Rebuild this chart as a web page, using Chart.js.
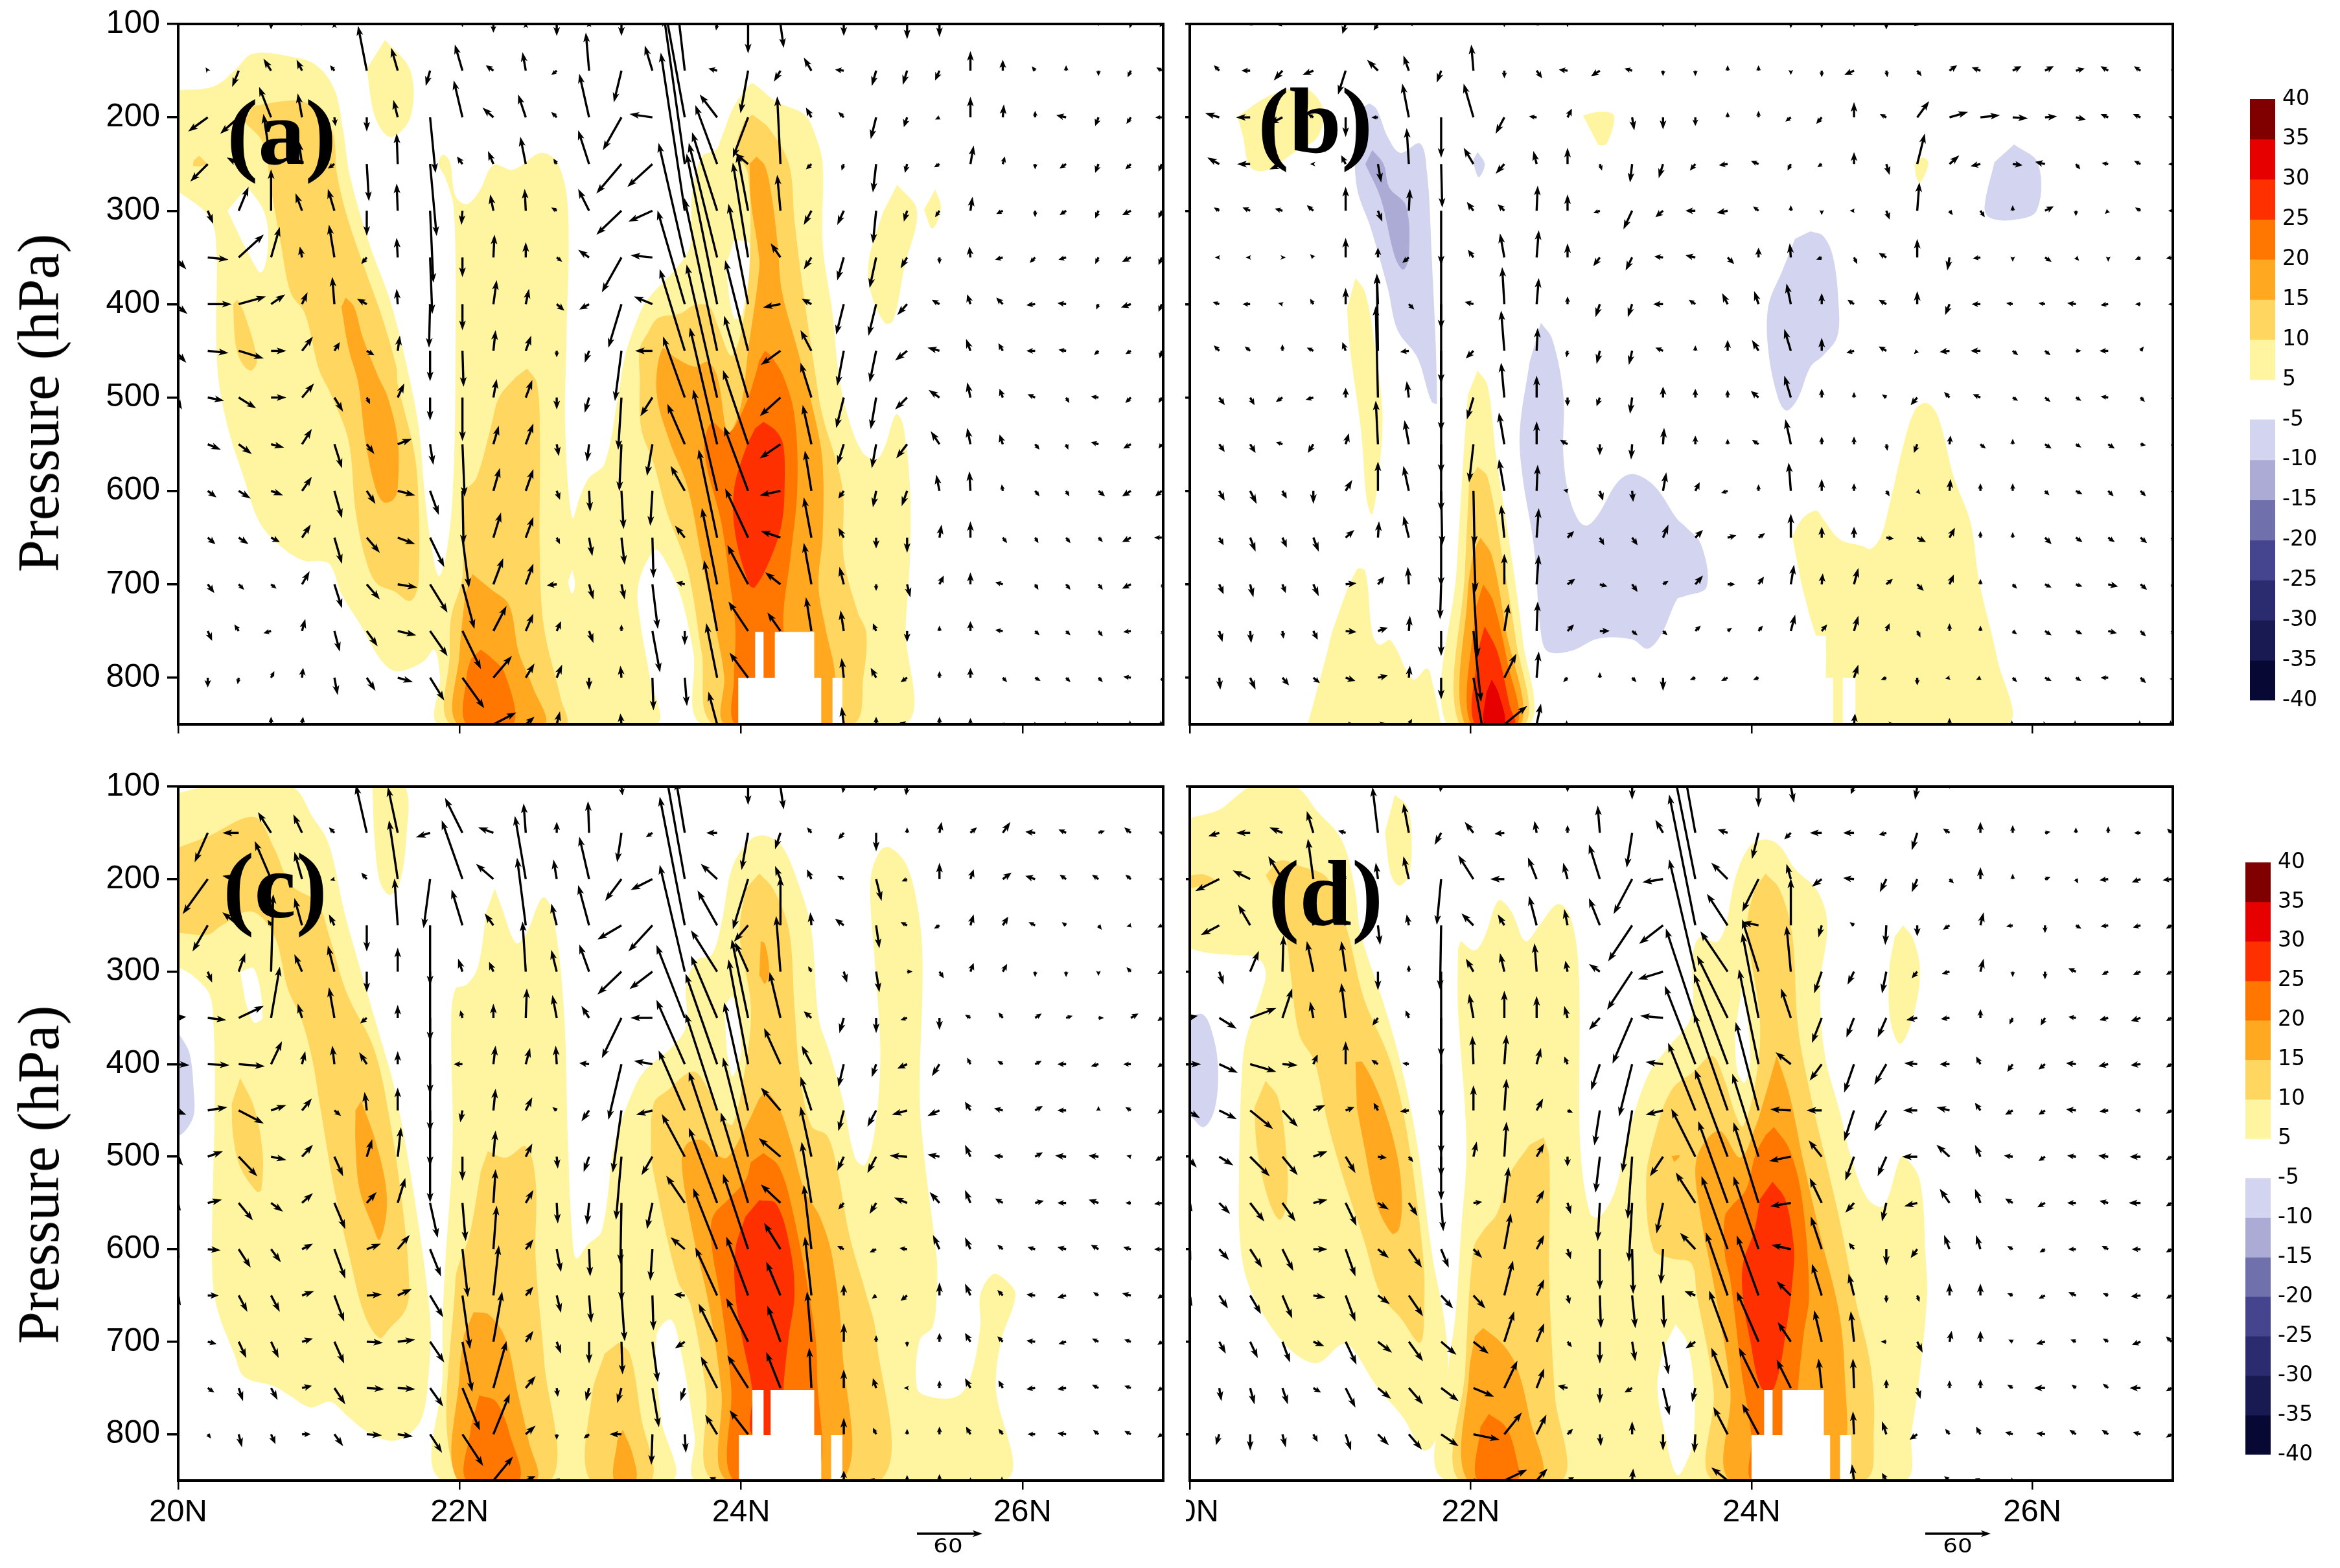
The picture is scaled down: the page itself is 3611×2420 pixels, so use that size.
<!DOCTYPE html>
<html><head><meta charset="utf-8">
<style>
html,body{margin:0;padding:0;background:#fff;width:3611px;height:2420px;overflow:hidden}
canvas{position:absolute;display:block}
.t{position:absolute;white-space:nowrap;color:#000}
.panel{font:700 145px/145px "Liberation Serif",serif}
.yt{font:400 90px/90px "Liberation Serif",serif;transform:translate(-50%,-50%) rotate(-90deg)}
.ref{font:400 31px/31px "DejaVu Sans",sans-serif;transform:translateX(-50%) scaleX(1.15)}
</style></head><body>
<script src="https://cdn.jsdelivr.net/npm/chart.js@4/dist/chart.umd.min.js"></script>
<script>
const latitudes=[19.98,20.21,20.43,20.66,20.88,21.11,21.34,21.56,21.79,22.02,22.24,22.47,22.69,22.92,23.15,23.37,23.6,23.83,24.05,24.28,24.5,24.73,24.96,25.18,25.41,25.63,25.86,26.09,26.31,26.54,26.77,26.99];
const pressures=[100,150,200,250,300,350,400,450,500,550,600,650,700,750,800,850];
const pressureTicks=[100,200,300,400,500,600,700,800];
const latTicks=[20,22,24,26];
const colorLabels=['40','35','30','25','20','15','10','5','-5','-10','-15','-20','-25','-30','-35','-40'];
const levelColors={0:'#ffffff',5:'#fff5a0',10:'#ffd660',15:'#ffa820',20:'#ff7700',25:'#ff3000',30:'#e60000',35:'#800000','-5':'#d3d4f0','-10':'#ababd6','-15':'#7070ad','-20':'#44448f','-25':'#2b2b70','-30':'#1a1a52','-35':'#080835'};
const barColors=['#800000','#e60000','#ff3000','#ff7700','#ffa820','#ffd660','#fff5a0',null,'#d3d4f0','#ababd6','#7070ad','#44448f','#2b2b70','#1a1a52','#080835'];
const refArrowValue=60;

// wind vectors: one row per pressure level, u,w pairs per latitude
const windA=[
[0,0,0,-1,-1,-3,0,-5,-1,-2,0,1,0,0,0,-1,0,0,0,-3,0,-8,0,1,0,-11,0,2,0,-11,2,5,0,0,-1,-6,0,-27,3,-22,0,0,0,-11,0,-6,0,-14,0,-12,0,0,0,0,-1,-1,0,0,0,-2,-1,-4,-2,-3],
[0,0,-2,3,-6,-15,-7,11,-5,10,-4,5,-8,41,-6,21,-4,-14,-7,24,-7,5,-3,17,-5,-4,-3,35,-7,-29,-7,23,-7,60,-8,2,-7,-39,-6,-10,-7,12,-8,1,-4,-14,-4,-13,-4,-9,0,18,0,10,-3,4,0,5,0,-5,-3,-6,-5,3],
[0,0,-18,-13,-17,-15,-11,28,-4,22,1,-8,0,-13,-4,16,5,-51,-8,34,-10,9,-7,21,-5,5,-9,40,-17,-30,-21,3,-20,110,-16,21,-14,-37,0,0,-5,9,-5,5,-5,-20,-3,-9,-4,-2,0,19,1,12,0,6,-9,2,-3,-8,-4,-6,-6,0],
[0,0,-16,-16,-11,6,-7,46,-3,21,-6,-4,2,-34,-1,28,6,-66,-5,7,-5,12,-5,25,-3,5,-10,31,-23,-27,-23,-21,-19,135,-20,54,-12,10,-3,62,-5,-5,-2,-6,-3,-26,-2,-8,-5,-3,3,17,2,7,0,-5,-6,-4,-3,-8,-5,-5,-3,-7],
[0,0,5,-12,9,22,0,38,-6,16,-6,20,0,-23,-1,25,3,-66,-1,-13,-3,15,-1,20,-5,3,-10,20,-23,-22,-22,-10,-22,145,-23,72,-10,53,-3,33,-7,-13,-6,-13,-3,-30,-3,-10,-4,-6,2,13,-6,-3,0,-6,-6,-4,-3,-7,-8,-4,-3,-7],
[10,-11,19,-2,23,21,8,28,-2,10,-5,30,-5,-6,-1,18,2,-52,0,-18,1,21,0,14,5,-4,-10,7,-18,-32,-20,2,-24,105,-26,105,-14,87,-9,13,-7,-11,-6,-21,-6,-28,-6,-10,0,-6,-1,10,-7,-2,-5,-5,-7,-2,-3,-6,-8,-4,-3,-7],
[11,-9,22,0,25,7,13,9,5,11,-2,25,-9,5,-1,14,-1,-40,0,-24,3,22,3,14,7,-6,-9,-5,-12,-40,-17,7,-25,86,-28,138,-18,92,-16,-3,-9,5,-7,-28,-7,-29,-9,-10,-7,4,-3,9,-6,6,-8,-1,-8,1,-2,-5,-9,-3,-3,-7],
[10,-11,19,-2,23,-7,14,0,10,13,5,8,7,-4,2,14,0,-28,1,-33,2,19,5,14,0,-6,-4,-11,-6,-46,-16,0,-23,75,-30,140,-21,83,-18,-13,-10,19,-6,-32,-6,-29,-11,-9,-11,3,-4,11,-4,7,-8,0,-7,1,-4,-4,-5,-3,-2,-7],
[6,-11,15,-3,16,-10,14,0,11,13,8,-13,3,-6,6,13,0,-21,0,-40,3,17,6,16,0,-11,-4,-14,-3,-48,-11,-17,-20,56,-28,122,-22,75,-19,-17,-10,32,-7,-28,-5,-29,-11,-11,-10,7,-3,14,-3,8,-7,3,3,-5,-7,1,-5,-5,-3,-5],
[3,-7,12,-5,12,-9,12,-3,9,14,7,-22,7,-9,13,5,3,-19,2,-48,5,17,7,19,2,-11,-2,-16,-2,-43,-5,-29,-16,37,-25,107,-23,68,-19,-13,-8,36,-6,-19,-4,-22,-10,-13,-8,12,-3,15,-3,9,4,-5,2,-5,-7,2,-7,-4,-3,-4],
[3,-8,8,-6,11,-7,11,-4,9,13,7,-25,8,-12,16,-4,8,-22,1,-49,6,21,7,20,3,-8,1,-19,2,-35,-2,-32,-13,23,-22,93,-22,59,-19,-4,-6,37,-5,-7,-3,-15,-5,-14,-3,15,-1,18,-1,6,4,-5,3,-5,6,-5,-8,-5,-6,-5],
[2,-7,7,-6,9,-6,8,-4,8,12,7,-24,12,-14,16,-6,13,-27,6,-46,7,23,7,19,3,-6,3,-17,3,-25,1,-37,-9,11,-17,81,-21,45,-18,6,-7,37,-5,9,0,-10,0,-14,2,12,0,15,4,-5,3,-5,4,-5,4,-4,-8,-4,-7,0],
[2,-6,6,-8,5,-5,5,-4,7,12,7,-22,12,-14,18,-3,16,-26,11,-41,9,24,7,19,-9,-1,4,-14,3,-14,5,-41,-8,2,-14,70,-19,36,-14,11,-7,38,-4,16,0,-6,3,-12,4,8,0,11,-7,2,3,-5,4,-5,4,-5,-8,-4,3,-5],
[1,-4,4,-9,-4,6,-7,-2,3,11,5,-19,10,-14,17,-4,16,-23,17,-35,12,23,7,16,4,9,4,-11,0,6,7,-38,0,-13,-12,65,-18,27,-12,17,-5,31,-3,19,-3,7,0,-10,0,5,0,9,-7,1,4,-4,4,-4,4,-5,-7,-1,3,-5],
[0,0,0,-9,-1,-6,3,6,1,9,3,-16,8,-12,14,-4,13,-21,20,-28,17,20,8,13,5,12,0,-11,-1,11,1,-30,2,-26,-10,50,-17,23,0,0,0,0,-2,18,-5,9,-6,-4,0,6,0,9,4,-4,5,-3,4,-4,4,-4,-7,1,2,-5],
[0,0,0,0,0,1,0,7,1,7,0,0,0,0,0,0,0,0,0,0,21,11,8,7,3,12,0,0,-1,10,0,0,0,0,-8,30,0,0,0,0,0,0,-2,16,0,7,-7,2,0,7,0,6,-3,1,3,-1,2,-1,2,-1,1,-1,1,-1]
];
const windB=[
[0,0,0,0,-3,-1,-5,-1,0,0,-3,-9,-4,-6,-1,0,0,0,0,0,0,-3,-3,-1,0,-3,0,0,0,0,0,-3,0,-3,0,0,0,0,0,-4,0,-4,0,-3,0,-5,-3,-2,0,0,0,0,0,-1,0,0,0,-1,0,-1,0,0,0,0],
[0,0,-5,5,-8,0,-8,-9,-10,-4,-7,-22,-10,10,-5,14,-4,-11,-2,24,0,-7,5,-7,-8,1,-8,-5,-7,2,0,-5,0,-5,0,5,0,5,0,-4,0,-6,-9,-4,1,-6,4,-5,7,5,-8,3,8,4,8,4,8,2,-7,4,-6,4,5,2],
[0,0,-13,4,-13,0,-12,-6,-5,3,0,-18,-6,0,-6,31,0,-37,-9,31,-8,-15,-7,1,4,8,0,0,2,-12,0,-11,0,-8,0,5,0,6,-5,-4,-5,-6,0,14,-6,3,11,15,17,5,18,2,14,-1,11,1,9,-2,-7,3,-7,3,-3,1],
[0,0,-11,6,-12,0,-12,-5,-3,0,-4,8,3,-17,-2,33,1,-40,-9,15,-8,-9,-3,12,0,15,2,-6,-2,-17,-4,-13,-5,-6,-8,-1,-7,3,-3,-6,-4,-3,0,11,3,-10,7,28,9,8,-9,-2,9,-1,-9,2,4,-5,-6,1,-6,3,-3,0],
[0,0,-5,3,-7,3,-7,2,-6,5,0,22,4,-10,1,20,0,-50,-6,8,-6,6,1,23,0,15,-6,-2,-8,-17,-7,-6,-9,0,-10,-2,-5,4,0,5,0,-4,-4,0,3,-8,2,26,3,-4,4,-6,0,5,8,4,0,-5,-3,-3,-5,3,-3,0],
[0,0,-4,0,-4,0,3,0,-3,3,0,18,0,9,-6,-5,0,-66,-5,7,-4,22,2,25,0,13,-6,-8,-6,-12,-8,1,-9,2,6,-6,0,9,-1,13,-5,-2,3,-6,-7,4,0,17,-2,-12,-7,-1,0,-4,6,-4,3,-3,0,-4,-5,-2,-5,-1],
[-5,3,-6,2,-7,0,-4,1,-3,5,0,15,-1,28,5,-5,0,-73,-8,2,-2,34,2,24,0,7,-4,-12,-4,-12,-9,0,-6,4,-5,10,-4,12,-4,19,0,10,-6,4,-7,4,0,12,-4,-10,-8,0,-6,1,-6,1,-8,1,-7,-1,-5,0,-3,0],
[-3,5,-5,5,-5,4,0,6,-6,3,-3,8,-1,70,-8,-1,0,-74,-7,-7,-3,37,1,21,-1,-6,-3,-12,-3,-13,-7,3,0,5,0,10,-6,10,-6,20,0,12,-7,-2,-7,4,-3,-3,-9,-1,-9,0,5,-4,5,-4,5,0,-8,0,3,4,0,0],
[3,-5,5,-7,4,-7,-6,-4,-7,-2,0,9,-2,84,-2,15,0,-70,-6,-20,-3,32,0,20,0,-8,-3,-8,-2,-15,0,10,0,8,0,7,-7,6,-6,20,0,8,0,5,-4,3,-6,-7,-5,5,-7,3,5,-3,5,-4,5,-3,-7,1,4,-4,5,-3],
[3,-8,5,-7,5,-8,-6,2,-5,-8,3,10,-2,40,-4,22,0,-62,-4,-35,-5,29,0,21,-7,4,0,-10,-1,-14,1,15,0,8,0,5,-6,4,-5,23,0,7,0,7,1,-6,-3,-8,1,8,5,-4,0,5,6,-4,5,-3,6,-4,5,-1,5,-4],
[3,-7,5,-9,6,-12,4,-7,0,-12,6,10,0,27,-5,23,1,-50,1,-50,-5,29,1,24,-4,1,3,-9,1,-10,3,17,4,8,-6,-2,0,6,-2,26,0,11,0,7,3,-5,3,-3,1,11,0,7,0,7,4,-4,6,-3,5,-5,5,-5,5,-3],
[3,-6,4,-7,5,-13,4,-9,5,-13,8,7,1,15,-5,20,0,-45,2,-50,-3,30,2,27,6,6,4,-7,5,-7,5,12,7,7,8,2,6,4,0,22,0,10,0,10,7,-1,8,-4,5,9,0,6,0,5,6,-6,6,-4,6,-4,6,-5,4,-4],
[3,-6,4,-9,3,-12,3,-8,5,-11,10,1,6,7,-1,16,-1,-32,4,-67,0,28,2,27,7,5,7,-2,5,-7,5,3,7,8,7,0,5,7,3,18,1,10,4,15,6,5,6,-6,4,9,0,5,4,-4,6,-3,6,-2,9,-2,6,-5,4,-4],
[1,-4,3,-10,1,-11,1,-7,4,-8,10,-1,9,3,1,14,0,-23,7,-65,4,25,1,27,6,6,9,0,5,-4,4,-4,5,5,4,3,4,5,4,15,5,6,4,14,3,7,3,-6,0,7,0,5,4,-3,6,-4,6,-3,8,-2,5,-5,4,-4],
[0,0,1,-11,5,-11,6,-7,6,-5,9,-3,9,2,1,11,0,-20,9,-50,11,22,2,24,-4,-4,0,5,4,-4,0,-12,-5,-2,-6,-3,-5,-2,0,0,0,0,4,12,-5,-2,0,-7,-4,-1,-4,-2,4,-4,6,-3,5,-3,-7,0,5,-5,3,-3],
[0,0,0,0,0,0,0,0,0,0,8,0,7,1,3,5,0,0,9,-30,21,17,4,19,1,-1,0,0,0,0,0,0,0,0,0,0,0,0,0,0,0,0,1,10,8,0,0,0,0,6,0,0,1,-1,2,-1,1,-1,0,0,1,-1,1,-1]
];
const windC=[
[0,0,-2,-1,0,0,0,0,0,0,0,0,0,0,0,0,0,0,0,0,0,0,0,0,0,0,0,0,1,-8,0,0,0,0,0,0,0,-17,3,-21,0,0,-1,-6,-2,-4,-1,-8,0,0,0,0,0,0,0,0,0,0,0,0,0,0,0,0],
[0,0,-12,-27,-15,0,-12,19,-8,17,-5,5,-10,44,-9,42,-13,-4,-16,32,-14,5,-2,27,0,10,-1,29,-4,-27,-6,-4,-8,48,-10,0,-6,-34,-5,-15,-4,5,-5,-6,0,-17,0,5,2,10,6,5,7,10,-9,1,-7,3,6,2,-6,5,-3,1],
[0,0,-23,-32,-15,3,-15,35,-7,25,-4,-1,-5,6,-8,54,-6,-45,-19,54,-16,14,-10,58,-3,18,-9,39,-15,-20,-20,-10,-17,95,-15,14,-14,-46,-5,12,-4,9,-6,3,5,-20,-5,-2,0,15,3,9,8,6,-9,3,-6,4,-6,4,-5,4,-3,0],
[0,0,-14,-24,-15,12,-3,5,-7,25,-5,10,0,-24,-3,43,0,-55,-10,33,-8,11,-8,62,-5,20,-10,37,-22,-13,-22,-24,-23,118,-18,32,-13,-15,0,45,-1,12,-8,6,3,-21,-6,3,-5,-3,3,10,5,8,-6,3,-4,3,3,-4,-4,-1,-4,-2],
[0,0,4,-10,6,17,2,71,-7,16,-6,24,0,-19,0,22,0,-64,-4,12,-4,9,-3,46,-5,20,-9,25,-22,-21,-21,-16,-23,98,-24,38,-12,27,-4,51,-3,5,3,-10,3,-19,5,0,4,-6,3,8,4,7,0,-5,0,-5,0,-4,-4,4,-4,-2],
[10,1,17,-2,23,11,8,47,-4,13,-5,28,-6,-5,0,12,0,-70,-2,7,0,13,1,27,-4,21,-7,11,-18,-37,-20,0,-26,67,-24,57,-15,72,-10,42,-7,6,-4,-14,0,-14,-6,-2,0,-11,-5,3,-4,5,6,4,6,2,5,0,7,4,-4,-3],
[13,-1,20,-1,24,-2,10,21,3,12,-2,17,-7,11,0,12,0,-62,-8,0,2,17,4,15,-1,17,-9,1,-12,-51,-17,3,-26,59,-29,83,-18,96,-15,33,-9,17,-5,-21,-4,-12,-9,-4,-7,-11,-3,6,-5,3,6,3,-8,0,-7,-2,-7,0,-4,-3],
[10,-4,18,3,23,-12,14,5,9,11,6,-5,-2,17,0,21,0,-51,-2,-11,2,20,6,12,-4,3,-7,-10,-8,-57,-15,-4,-24,55,-29,89,-22,99,-18,21,-10,31,-5,-19,-8,-15,-14,-4,-11,-5,-5,8,-8,2,7,4,-8,0,0,4,-5,3,-4,-3],
[7,-8,14,5,17,-18,14,-3,10,11,8,-18,5,16,3,27,0,-42,0,-22,2,24,6,12,1,-11,-5,-14,-5,-58,-10,-17,-21,39,-26,78,-23,91,-20,17,-10,46,-6,-13,-8,-15,-16,1,-11,2,-5,11,-8,1,7,4,-10,1,-9,1,-4,1,-6,-4],
[5,-7,13,3,13,-16,11,-8,10,9,10,-24,9,10,7,23,7,-32,3,-35,2,31,7,12,1,-19,-2,-20,-1,-56,-5,-24,-17,25,-26,69,-25,83,-18,17,-9,56,-5,-6,-6,-10,-12,5,-9,10,-5,12,-7,4,8,2,-8,0,-9,3,-5,0,-7,-1],
[4,-8,12,-1,11,-17,9,-12,10,5,10,-27,13,5,11,13,10,-25,5,-44,3,40,7,9,4,-21,1,-25,0,-48,-2,-29,-13,11,-22,56,-23,69,-15,24,-7,59,-6,3,-6,-3,-7,1,-6,13,-5,11,-5,4,-7,2,-8,2,-7,4,-7,2,-7,0],
[5,-9,10,0,8,-15,8,-15,11,4,9,-24,14,1,13,6,12,-20,7,-49,5,46,7,8,4,-16,2,-25,3,-42,1,-32,-10,1,-20,44,-20,54,-13,31,-6,54,0,10,-4,-3,-6,-5,0,12,-5,11,-5,5,-8,1,-8,-2,-5,3,-8,2,-4,-3],
[2,-7,8,-2,7,-15,7,-15,10,3,9,-20,15,-1,16,2,13,-19,9,-46,8,46,7,10,4,-11,0,-20,1,-30,5,-37,-9,-6,-17,35,-20,40,-12,33,-4,46,0,17,0,6,0,-5,0,8,-5,8,-5,5,-8,1,-7,-2,-6,3,-6,2,-4,-3],
[1,-4,6,-4,4,-12,6,-11,9,2,10,-15,16,-1,16,-1,12,-17,16,-39,12,43,9,11,1,-8,-3,-12,-4,-14,6,-36,-4,-12,-15,29,-19,30,-13,33,-2,37,0,17,-3,9,-3,0,0,7,-5,9,-4,7,-8,-1,-8,-1,-6,3,-6,2,-4,-3],
[0,0,3,-4,3,-12,4,-9,8,0,8,-11,14,-1,14,-2,11,-17,19,-29,15,37,9,8,0,-5,-5,-4,-11,0,-1,-28,1,-17,-11,18,-17,22,0,0,0,0,0,15,-3,6,0,5,0,7,-4,7,-4,5,-7,0,-8,1,-5,4,-6,3,-4,-3],
[0,0,0,0,0,0,0,0,0,0,0,0,0,0,0,0,0,0,0,0,18,22,9,4,3,2,0,0,8,-5,0,0,0,0,-7,3,0,0,0,0,0,0,0,9,-6,1,0,5,0,6,0,3,1,-1,0,0,0,0,0,0,0,0,0,0]
];
const windD=[
[0,0,0,0,0,0,0,0,0,0,0,0,0,0,0,0,-1,-5,0,0,0,0,0,0,0,-5,0,0,0,-12,0,0,0,0,0,0,0,-19,3,-15,0,0,-3,-7,0,0,-2,-12,0,-2,0,0,0,0,0,0,0,0,0,0,0,0,0,0],
[0,0,-10,-3,-13,0,-12,5,-6,20,-7,2,-5,42,-5,27,-6,-11,-8,10,-9,-1,-2,11,0,7,-2,25,-5,-32,-7,12,-9,50,-9,3,-6,-24,-6,-6,-11,0,-10,0,-7,-2,-5,-16,-6,4,0,10,0,7,5,1,0,5,0,6,-6,0,-4,4],
[0,0,-22,-11,-16,8,-13,21,-5,37,-3,5,-2,15,-5,21,-4,-42,-14,22,-13,0,-8,20,-4,15,-10,32,-17,-32,-19,-3,-19,95,-15,15,-15,-30,-4,14,-9,-7,-10,1,-6,-12,-5,-12,4,-4,0,11,0,5,5,2,2,-4,-8,-1,-8,-3,-8,-1],
[0,0,-17,-9,-11,19,-3,8,-4,30,-3,8,2,-18,-2,10,-1,-59,-11,11,-6,10,-7,27,-3,15,-10,25,-22,-33,-22,-17,-24,120,-19,29,-15,3,0,43,-3,-11,-4,3,-1,-18,0,-10,-6,-4,3,12,-6,-1,0,-7,5,-3,-7,-1,-7,-2,-5,-3],
[0,0,4,-12,8,19,1,33,-6,28,-4,28,0,-17,0,6,0,-79,-7,12,-4,17,-2,26,-2,10,-10,7,-23,-35,-23,-7,-24,103,-25,37,-15,48,-4,42,-7,-20,-6,-12,-4,-20,-5,-6,-7,-2,3,12,0,-5,0,-7,-7,3,-6,-3,-7,-3,-5,-3],
[10,2,16,-10,24,9,9,27,-3,15,-4,32,-5,-7,-3,7,0,-93,-4,22,0,25,0,20,-3,11,-10,-11,-18,-42,-21,2,-27,82,-28,57,-15,78,-9,27,-9,-23,-7,-18,-8,-18,-10,-2,-8,-1,0,8,-3,-6,-4,-7,-7,1,-8,-2,-9,-3,-5,-3],
[13,0,17,-8,24,-7,14,-1,4,9,0,21,-6,4,-6,1,0,-83,-1,26,2,27,4,15,-3,7,-8,-24,-12,-48,-16,2,-28,72,-31,83,-18,87,-14,11,-11,-15,-9,-26,-11,-19,-12,1,-9,0,-4,7,-5,-7,-6,-5,-9,1,-9,-2,-9,-1,-5,-3],
[12,-7,16,-8,21,-17,14,-15,11,5,8,3,-4,7,-8,-1,0,-61,0,23,2,29,6,11,5,-2,-5,-32,-9,-57,-16,-4,-25,62,-31,89,-21,81,-19,1,-14,0,-9,-28,-11,-19,-13,0,-12,3,-5,7,-7,-4,-6,-4,-9,1,-8,-1,-5,0,-5,-3],
[9,-10,13,-8,18,-18,14,-17,13,5,9,-15,8,-1,4,-5,0,-40,3,14,2,32,7,12,0,-9,-4,-33,-4,-57,-12,-18,-22,44,-30,80,-24,76,-20,-4,-12,15,-8,-22,-8,-18,-14,0,-12,11,-5,11,-8,1,-6,-4,-8,1,-9,1,-10,0,-5,-3],
[5,-8,10,-10,13,-17,12,-17,13,3,10,-21,10,-6,8,-12,2,-26,8,1,4,33,7,12,3,-10,-2,-35,-3,-54,-6,-28,-18,28,-27,75,-23,74,-19,-3,-11,23,-8,-9,-4,-17,-12,-3,-9,13,-5,13,-7,4,-7,-4,-8,0,-8,2,-11,0,-5,-3],
[4,-10,9,-10,11,-17,10,-20,13,0,9,-25,10,-8,12,-17,7,-17,8,-8,6,33,7,13,3,-9,0,-37,1,-41,-2,-32,-14,15,-24,67,-23,67,-18,4,-10,30,-5,6,0,-15,-6,-8,-5,13,-4,13,-5,3,-5,-3,-7,0,-6,3,-8,0,-5,-3],
[5,-10,8,-12,10,-17,9,-21,11,-2,9,-24,11,-8,13,-19,11,-12,11,-12,8,32,7,15,2,-8,1,-30,3,-30,1,-30,-10,4,-20,58,-20,55,-13,13,-9,29,-5,20,0,-7,2,-6,0,11,0,11,-5,2,-6,-3,-7,3,-5,2,-9,-1,-5,-3],
[2,-7,6,-11,7,-15,7,-19,10,-4,10,-21,13,-10,13,-18,14,-12,14,-11,9,28,7,17,4,-5,0,-20,3,-18,5,-30,-9,-6,-17,47,-20,46,-12,18,-7,29,-3,28,-5,0,5,-10,2,10,0,10,-4,2,-8,-2,-5,2,-5,3,-8,-3,-5,5],
[1,-4,2,-12,4,-15,5,-15,7,-4,9,-18,12,-10,13,-15,16,-12,19,-8,12,25,7,18,-9,2,0,-14,-7,-4,6,-25,-3,-13,-15,37,-18,37,-13,26,-3,27,-1,27,0,8,3,-10,0,7,0,8,-5,3,-10,0,-4,3,-5,4,-10,0,-5,-3],
[0,0,-3,-10,0,-15,3,-12,4,-7,5,-15,10,-10,12,-14,16,-11,24,-5,16,20,9,18,5,5,1,-11,0,12,0,-15,-1,-17,-13,25,-15,28,0,0,0,0,-1,21,-4,12,-7,-5,-4,5,-4,7,-7,2,-8,1,-6,4,-6,4,-7,2,-5,-3],
[0,0,0,0,0,0,0,0,0,0,0,0,0,0,0,0,0,0,5,0,21,10,10,11,6,3,0,0,1,11,0,0,0,0,-15,12,0,0,0,0,0,0,-2,15,-4,7,0,0,-5,4,-5,2,2,-1,0,0,0,0,0,0,0,0,0,0]
];

// contour outlines as [latitude, pressure] pairs; level 0 is an unshaded hole or terrain mask
const shadeA=[
{lev:5,pts:[[20,171],[20.25,167],[20.4,150],[20.53,132],[20.8,135],[20.98,144],[21.11,170],[21.17,212],[21.22,262],[21.36,336],[21.51,398],[21.64,477],[21.71,533],[21.75,600],[21.79,650],[21.85,691],[21.9,672],[21.95,604],[21.97,470],[21.96,300],[21.9,265],[21.85,250],[21.88,240],[21.93,247],[21.97,284],[22.05,293],[22.14,279],[22.24,251],[22.38,256],[22.58,238],[22.7,250],[22.77,299],[22.76,435],[22.75,533],[22.8,629],[22.86,604],[22.92,586],[23.03,571],[23.13,495],[23.18,453],[23.28,410],[23.34,394],[23.57,356],[23.64,336],[23.65,284],[23.72,242],[23.82,235],[23.86,222],[23.95,188],[24.07,164],[24.1,165],[24.25,183],[24.45,197],[24.53,220],[24.58,250],[24.58,336],[24.65,410],[24.69,470],[24.75,515],[24.86,558],[24.96,566],[25.02,553],[25.1,518],[25.15,528],[25.2,596],[25.2,672],[25.17,747],[25.16,850],[23.73,850],[23.66,772],[23.57,712],[23.47,677],[23.39,663],[23.27,701],[23.29,747],[23.35,798],[23.39,850],[21.86,850],[21.86,798],[21.82,770],[21.74,783],[21.55,793],[21.44,781],[21.31,747],[21.16,710],[21.08,679],[21.0,675],[20.9,675],[20.75,662],[20.58,634],[20.46,583],[20.36,536],[20.29,485],[20.27,435],[20.27,336],[20.22,306],[20,279]]},
{lev:5,pts:[[25.11,272],[25.25,300],[25.16,361],[25.08,418],[25.02,420],[24.92,386],[24.91,351],[25.01,301]]},
{lev:5,pts:[[25.38,277],[25.42,297],[25.36,319],[25.3,299]]},
{lev:5,pts:[[21.47,117],[21.65,150],[21.65,200],[21.51,221],[21.4,200],[21.34,148]]},
{lev:0,pts:[[20.49,274],[20.61,301],[20.64,336],[20.59,366],[20.5,346],[20.35,300]]},
{lev:0,pts:[[23.95,331],[24.06,336],[24.01,410],[23.95,415],[23.89,361]]},
{lev:0,pts:[[22.8,684],[22.82,700],[22.8,710],[22.77,698]]},
{lev:10,pts:[[20.53,188],[20.8,182],[20.93,186],[21.09,212],[21.13,262],[21.21,311],[21.34,368],[21.44,410],[21.55,467],[21.56,485],[21.68,561],[21.71,621],[21.71,692],[21.69,710],[21.64,718],[21.54,708],[21.41,699],[21.33,672],[21.26,621],[21.21,546],[21.08,495],[21.0,470],[20.9,410],[20.8,388],[20.73,336],[20.66,277],[20.6,227],[20.47,205]]},
{lev:10,pts:[[20.15,241],[20.2,250],[20.11,252],[20.11,246]]},
{lev:10,pts:[[20.42,395],[20.47,410],[20.56,460],[20.52,471],[20.46,465],[20.41,445],[20.39,400]]},
{lev:10,pts:[[22.48,469],[22.55,485],[22.57,546],[22.57,672],[22.6,747],[22.72,823],[22.75,850],[21.94,850],[21.93,773],[21.94,735],[22.02,692],[22.03,604],[22.12,586],[22.22,533],[22.28,500],[22.4,478]]},
{lev:10,pts:[[24.08,197],[24.2,212],[24.34,250],[24.38,311],[24.43,373],[24.53,477],[24.58,520],[24.72,596],[24.73,672],[24.83,730],[24.89,752],[24.87,798],[24.79,850],[23.81,850],[23.72,773],[23.62,684],[23.47,621],[23.38,571],[23.29,533],[23.28,478],[23.28,448],[23.34,430],[23.41,415],[23.57,410],[23.67,401],[23.77,402],[23.84,425],[23.93,455],[24.0,430],[24.06,361],[24.05,262],[23.97,232],[24.02,205]]},
{lev:15,pts:[[21.19,393],[21.25,403],[21.31,435],[21.42,477],[21.49,500],[21.56,546],[21.56,596],[21.53,609],[21.46,612],[21.4,596],[21.33,546],[21.28,485],[21.21,447],[21.16,403]]},
{lev:15,pts:[[22.09,689],[22.22,705],[22.35,722],[22.42,773],[22.52,810],[22.6,850],[21.99,850],[22.0,773],[22.04,710]]},
{lev:15,pts:[[24.11,242],[24.17,252],[24.22,287],[24.26,336],[24.29,386],[24.4,448],[24.53,525],[24.58,571],[24.58,647],[24.55,701],[24.6,747],[24.67,800],[24.64,850],[23.89,850],[23.88,798],[23.82,747],[23.72,672],[23.62,596],[23.49,546],[23.4,495],[23.44,448],[23.53,457],[23.67,467],[23.76,462],[23.83,477],[23.91,538],[24.0,508],[24.05,450],[24.13,361],[24.12,340],[24.07,290],[24.06,250]]},
{lev:20,pts:[[22.15,770],[22.22,778],[22.32,795],[22.38,850],[22.05,850],[22.05,798],[22.08,780]]},
{lev:20,pts:[[24.17,450],[24.21,455],[24.3,477],[24.38,520],[24.4,596],[24.35,672],[24.3,735],[24.31,850],[23.96,850],[23.95,800],[23.96,747],[23.92,697],[23.86,634],[23.74,558],[23.79,527],[23.91,538],[24.03,508],[24.1,477],[24.13,460]]},
{lev:25,pts:[[24.16,526],[24.25,536],[24.3,551],[24.31,591],[24.29,634],[24.21,672],[24.1,703],[24.06,701],[23.96,647],[23.95,599],[24.03,556],[24.1,533]]},
{lev:0,t:0,pts:[[24.1,751],[24.16,751],[24.16,800],[24.1,800]]},
{lev:0,t:0,pts:[[24.24,751],[24.52,751],[24.52,800],[24.24,800]]},
{lev:0,t:0,pts:[[23.98,800],[24.57,800],[24.57,850],[23.98,850]]},
{lev:0,t:0,pts:[[24.65,800],[24.72,800],[24.72,850],[24.65,850]]}
];
const shadeB=[
{lev:5,pts:[[20.34,199],[20.58,176],[20.82,169],[20.95,191],[20.91,221],[20.77,235],[20.54,257],[20.43,253],[20.38,221]]},
{lev:5,pts:[[21.18,372],[21.25,388],[21.32,447],[21.37,511],[21.36,561],[21.3,625],[21.26,610],[21.22,536],[21.14,447],[21.12,405]]},
{lev:5,pts:[[20.84,850],[20.98,772],[21.02,748],[21.19,684],[21.25,686],[21.3,753],[21.35,765],[21.43,760],[21.59,802],[21.69,790],[21.73,807],[21.79,850]]},
{lev:5,pts:[[22.05,471],[22.12,487],[22.18,561],[22.28,659],[22.37,758],[22.42,850],[21.83,850],[21.9,684],[21.95,561],[21.98,497]]},
{lev:5,pts:[[25.16,249],[25.22,243],[25.26,249],[25.2,270],[25.17,263]]},
{lev:5,pts:[[22.8,198],[22.92,194],[23.02,198],[22.97,228],[22.91,230]]},
{lev:5,pts:[[24.29,649],[24.36,630],[24.46,621],[24.51,630],[24.63,652],[24.79,659],[24.85,662],[24.92,649],[24.99,610],[25.09,546],[25.17,512],[25.25,506],[25.33,521],[25.44,585],[25.56,634],[25.62,696],[25.75,780],[25.82,850],[24.53,850],[24.53,770],[24.46,755],[24.36,703]]},
{lev:0,t:0,pts:[[24.4,755],[24.53,755],[24.53,850],[24.4,850]]},
{lev:0,t:0,pts:[[24.53,800],[24.58,800],[24.58,850],[24.53,850]]},
{lev:0,t:0,pts:[[24.65,800],[24.74,800],[24.74,850],[24.65,850]]},
{lev:10,pts:[[22.05,574],[22.12,585],[22.23,674],[22.32,758],[22.39,850],[21.92,850],[21.96,684],[21.99,590]]},
{lev:15,pts:[[22.07,650],[22.15,669],[22.25,748],[22.36,850],[21.96,850],[21.98,708],[22.02,664]]},
{lev:20,pts:[[22.09,700],[22.16,718],[22.26,782],[22.33,850],[22.0,850],[22.03,728]]},
{lev:25,pts:[[22.1,745],[22.19,772],[22.28,831],[22.31,850],[22.03,850],[22.05,772]]},
{lev:30,pts:[[22.15,802],[22.2,817],[22.24,850],[22.1,850],[22.11,817]]},
{lev:-5,pts:[[21.28,185],[21.33,191],[21.41,221],[21.5,238],[21.64,228],[21.69,260],[21.72,339],[21.76,506],[21.72,504],[21.62,457],[21.48,428],[21.41,383],[21.29,319],[21.19,275],[21.18,216],[21.22,190]]},
{lev:-10,pts:[[21.3,235],[21.38,250],[21.42,275],[21.54,295],[21.56,349],[21.52,363],[21.46,349],[21.36,287],[21.25,250]]},
{lev:-5,pts:[[22.05,237],[22.1,250],[22.06,264],[22.03,255],[22.02,245]]},
{lev:-5,pts:[[22.5,420],[22.58,437],[22.66,497],[22.66,561],[22.7,605],[22.77,632],[22.83,637],[22.91,625],[23.05,590],[23.16,582],[23.31,595],[23.47,630],[23.52,637],[23.64,657],[23.68,703],[23.52,713],[23.47,716],[23.36,753],[23.26,769],[23.15,759],[22.91,758],[22.72,771],[22.55,772],[22.5,752],[22.45,659],[22.37,585],[22.35,536],[22.42,462]]},
{lev:-5,pts:[[24.42,322],[24.51,327],[24.58,349],[24.62,400],[24.61,435],[24.51,455],[24.42,467],[24.33,501],[24.25,514],[24.19,501],[24.12,450],[24.12,402],[24.22,364],[24.31,330]]},
{lev:-5,pts:[[25.87,229],[26.04,249],[26.03,300],[25.85,310],[25.69,307],[25.66,295],[25.73,248]]}
];
const shadeC=[
{lev:5,pts:[[20,107],[20.21,100],[20.8,100],[20.96,134],[21.07,162],[21.18,235],[21.29,295],[21.43,368],[21.54,428],[21.67,536],[21.79,674],[21.78,734],[21.73,783],[21.62,802],[21.5,807],[21.34,797],[21.2,780],[21.08,765],[20.94,771],[20.79,758],[20.68,748],[20.47,738],[20.4,714],[20.27,660],[20.24,610],[20.26,437],[20.25,354],[20.22,324],[20.1,304],[20,295]]},
{lev:0,pts:[[20.44,300],[20.54,297],[20.6,349],[20.54,355],[20.48,334]]},
{lev:5,pts:[[21.38,100],[21.61,100],[21.62,157],[21.57,206],[21.5,217],[21.43,201],[21.39,147]]},
{lev:5,pts:[[22.25,210],[22.3,231],[22.4,269],[22.47,260],[22.59,220],[22.66,235],[22.74,339],[22.77,487],[22.8,585],[22.83,610],[22.91,595],[23.01,580],[23.1,487],[23.21,437],[23.31,408],[23.5,383],[23.61,359],[23.61,314],[23.69,287],[23.79,282],[23.86,248],[23.94,186],[24.07,157],[24.17,153],[24.29,164],[24.41,206],[24.5,255],[24.55,349],[24.63,388],[24.72,437],[24.81,501],[24.88,509],[24.95,472],[24.99,388],[24.95,290],[24.92,201],[24.99,169],[25.06,166],[25.18,186],[25.27,245],[25.29,304],[25.27,437],[25.31,511],[25.39,610],[25.39,649],[25.36,684],[25.27,698],[25.25,750],[25.33,759],[25.52,760],[25.62,743],[25.7,684],[25.7,649],[25.79,627],[25.87,632],[25.95,649],[25.85,698],[25.81,748],[25.87,850],[23.69,850],[23.67,802],[23.57,708],[23.5,676],[23.4,693],[23.43,782],[23.5,850],[21.88,850],[21.88,733],[21.88,674],[21.9,610],[21.95,487],[21.94,354],[21.97,319],[22.05,314],[22.13,295],[22.19,235]]},
{lev:0,pts:[[23.88,339],[23.94,327],[24.0,383],[23.94,413],[23.9,388]]},
{lev:10,pts:[[20,166],[20.21,154],[20.54,133],[20.68,166],[20.8,206],[20.99,226],[21.08,265],[21.2,324],[21.39,383],[21.5,457],[21.6,561],[21.64,634],[21.62,664],[21.5,686],[21.43,696],[21.32,669],[21.22,610],[21.11,536],[21.01,447],[20.95,393],[20.87,349],[20.78,319],[20.68,260],[20.52,235],[20.31,250],[20.21,260],[20,258]]},
{lev:10,pts:[[20.44,415],[20.54,447],[20.6,496],[20.59,536],[20.56,538],[20.44,511],[20.39,477],[20.38,443]]},
{lev:10,pts:[[22.2,494],[22.33,501],[22.47,489],[22.54,526],[22.54,610],[22.6,720],[22.65,850],[21.99,850],[21.97,634],[22.07,585],[22.15,516]]},
{lev:10,pts:[[23.13,701],[23.21,713],[23.29,782],[23.36,850],[22.93,850],[22.94,758],[23.03,713]]},
{lev:10,pts:[[24.13,194],[24.23,211],[24.34,255],[24.38,339],[24.42,413],[24.5,467],[24.61,477],[24.68,511],[24.77,585],[24.88,644],[24.96,693],[24.99,850],[23.81,850],[23.75,753],[23.64,659],[23.55,634],[23.37,511],[23.36,487],[23.38,442],[23.48,428],[23.66,408],[23.77,428],[23.88,460],[23.94,465],[24.02,413],[24.07,339],[23.99,260],[24.03,211]]},
{lev:15,pts:[[21.3,440],[21.39,477],[21.47,526],[21.48,561],[21.43,590],[21.39,578],[21.29,536],[21.26,487],[21.26,450]]},
{lev:15,pts:[[22.1,668],[22.21,671],[22.33,698],[22.41,753],[22.49,807],[22.54,850],[21.99,850],[22.0,733],[22.03,693]]},
{lev:15,pts:[[23.16,795],[23.23,822],[23.25,850],[23.1,850],[23.12,807]]},
{lev:15,pts:[[24.14,267],[24.17,270],[24.2,300],[24.17,313],[24.13,304]]},
{lev:15,pts:[[24.18,428],[24.27,447],[24.36,487],[24.45,536],[24.56,565],[24.65,610],[24.72,708],[24.72,850],[23.9,850],[23.86,753],[23.77,659],[23.66,585],[23.58,511],[23.61,487],[23.72,482],[23.82,497],[23.9,501],[24.02,472],[24.13,437]]},
{lev:20,pts:[[22.14,758],[22.26,765],[22.36,802],[22.42,850],[22.05,850],[22.08,792]]},
{lev:20,pts:[[24.16,496],[24.27,511],[24.37,561],[24.52,684],[24.54,733],[24.52,850],[23.95,850],[23.93,750],[23.86,659],[23.79,595],[23.8,565],[23.91,546],[24.03,526],[24.07,506]]},
{lev:25,pts:[[24.13,547],[24.25,551],[24.35,600],[24.38,649],[24.34,693],[24.3,753],[24.3,801],[24.08,801],[24.08,753],[24.01,698],[23.96,649],[23.96,600],[24.03,565]]},
{lev:0,t:0,pts:[[24.08,752],[24.16,752],[24.16,801],[24.08,801]]},
{lev:0,t:0,pts:[[24.21,752],[24.52,752],[24.52,801],[24.21,801]]},
{lev:0,t:0,pts:[[23.985,801],[24.57,801],[24.57,850],[23.985,850]]},
{lev:0,t:0,pts:[[24.64,801],[24.72,801],[24.72,850],[24.64,850]]},
{lev:-5,pts:[[20.01,368],[20.08,388],[20.11,428],[20.11,455],[20.05,472],[20,476],[20,368]]}
];
const shadeD=[
{lev:5,pts:[[20,134],[20.21,125],[20.32,112],[20.44,100],[20.75,100],[20.91,127],[21.08,157],[21.17,206],[21.22,260],[21.38,334],[21.5,398],[21.62,487],[21.73,610],[21.81,674],[21.84,733],[21.8,780],[21.73,812],[21.66,817],[21.52,782],[21.33,748],[21.15,706],[21.08,703],[20.91,723],[20.75,713],[20.58,684],[20.42,639],[20.36,595],[20.35,526],[20.37,413],[20.4,373],[20.51,324],[20.54,300],[20.48,285],[20.32,282],[20.14,280],[20,275]]},
{lev:5,pts:[[21.46,109],[21.55,122],[21.58,157],[21.56,196],[21.49,207],[21.43,194],[21.39,149]]},
{lev:5,pts:[[21.93,267],[22.03,277],[22.1,262],[22.2,223],[22.29,235],[22.39,267],[22.49,250],[22.62,227],[22.71,240],[22.77,300],[22.78,487],[22.85,561],[22.92,565],[23.03,536],[23.12,477],[23.26,413],[23.4,383],[23.57,349],[23.58,285],[23.63,263],[23.75,268],[23.81,253],[23.89,196],[23.99,164],[24.1,157],[24.2,164],[24.31,189],[24.47,213],[24.54,249],[24.49,314],[24.52,388],[24.63,452],[24.72,506],[24.83,546],[24.94,553],[25.06,501],[25.1,501],[25.2,526],[25.24,610],[25.25,649],[25.2,733],[25.14,797],[25.08,850],[21.84,850],[21.84,733],[21.89,674],[21.93,585],[21.97,487],[21.91,339],[21.91,275]]},
{lev:0,pts:[[23.46,681],[23.54,700],[23.59,748],[23.59,800],[23.56,822],[23.47,844],[23.38,797],[23.33,748],[23.37,708]]},
{lev:0,pts:[[23.93,319],[23.97,349],[23.99,398],[23.95,420],[23.9,408],[23.88,368]]},
{lev:5,pts:[[25.08,250],[25.15,264],[25.2,300],[25.15,349],[25.06,378],[24.99,354],[24.98,300],[25.02,262]]},
{lev:10,pts:[[20,196],[20.1,195],[20.18,202],[20.06,208],[20,210]]},
{lev:10,pts:[[20.54,196],[20.64,180],[20.79,186],[20.98,199],[21.12,255],[21.24,329],[21.43,398],[21.55,477],[21.66,605],[21.67,659],[21.64,701],[21.5,674],[21.36,649],[21.24,590],[21.1,526],[20.98,462],[20.89,398],[20.78,368],[20.72,304],[20.68,255],[20.6,211]]},
{lev:10,pts:[[20.54,418],[20.63,437],[20.69,501],[20.69,551],[20.64,568],[20.56,546],[20.48,492],[20.46,447]]},
{lev:10,pts:[[22.52,479],[22.56,501],[22.56,634],[22.6,758],[22.65,850],[21.92,850],[21.96,733],[22.02,600],[22.09,580],[22.19,561],[22.27,521],[22.42,487]]},
{lev:10,pts:[[24.1,194],[24.2,211],[24.29,260],[24.33,359],[24.42,433],[24.54,511],[24.63,570],[24.74,654],[24.85,728],[24.87,798],[24.8,850],[23.73,850],[23.73,753],[23.61,649],[23.57,615],[23.43,610],[23.3,600],[23.25,526],[23.31,477],[23.43,428],[23.59,408],[23.72,391],[23.81,418],[23.88,452],[23.94,467],[24.03,418],[24.06,354],[23.97,250],[24.02,211]]},
{lev:15,pts:[[21.18,398],[21.23,398],[21.37,442],[21.48,501],[21.51,546],[21.49,578],[21.44,583],[21.33,551],[21.24,487],[21.19,447]]},
{lev:15,pts:[[22.09,685],[22.23,703],[22.33,728],[22.42,782],[22.5,850],[21.98,850],[21.99,733],[22.03,694]]},
{lev:15,pts:[[23.43,499],[23.49,499],[23.45,506]]},
{lev:15,pts:[[24.18,391],[24.27,433],[24.37,506],[24.49,585],[24.63,674],[24.67,753],[24.68,803],[24.63,850],[23.85,850],[23.85,753],[23.75,654],[23.61,536],[23.62,497],[23.77,472],[23.92,501],[24.03,467],[24.1,433]]},
{lev:20,pts:[[22.13,778],[22.25,792],[22.32,822],[22.33,850],[22.05,850],[22.07,792]]},
{lev:20,pts:[[24.16,468],[24.27,492],[24.36,546],[24.41,649],[24.37,693],[24.33,753],[24.3,850],[24.0,850],[24.0,803],[23.93,733],[23.85,634],[23.81,605],[23.81,565],[23.86,553],[23.96,536],[24.03,497],[24.1,477]]},
{lev:25,pts:[[24.15,527],[24.24,546],[24.3,595],[24.3,620],[24.25,684],[24.16,750],[24.07,750],[23.99,698],[23.94,654],[23.94,615],[24.02,580],[24.06,546]]},
{lev:0,t:0,pts:[[24.09,752],[24.15,752],[24.15,801],[24.09,801]]},
{lev:0,t:0,pts:[[24.22,752],[24.515,752],[24.515,801],[24.22,801]]},
{lev:0,t:0,pts:[[24.0,801],[24.56,801],[24.56,850],[24.0,850]]},
{lev:0,t:0,pts:[[24.63,801],[24.71,801],[24.71,850],[24.63,850]]},
{lev:-5,pts:[[20,349],[20.09,346],[20.15,361],[20.2,400],[20.18,447],[20.1,468],[20,455]]}
];

const ARROW_PX_PER_UNIT=101/60;
function arrow(ctx,x0,y0,dx,dy){
  const len=Math.hypot(dx,dy); if(len<1)return;
  const ux=dx/len,uy=dy/len,x1=x0+dx,y1=y0+dy;
  const hl=Math.min(15,Math.max(len*0.75,8)),hw=Math.max(3.6,Math.min(5.2,hl*0.45));
  ctx.lineWidth=3.4;ctx.lineCap='butt';
  ctx.beginPath();ctx.moveTo(x0,y0);ctx.lineTo(x1-ux*hl*0.6,y1-uy*hl*0.6);ctx.stroke();
  ctx.beginPath();ctx.moveTo(x1,y1);ctx.lineTo(x1-ux*hl-uy*hw,y1-uy*hl+ux*hw);ctx.lineTo(x1-ux*hl*0.75,y1-uy*hl*0.75);ctx.lineTo(x1-ux*hl+uy*hw,y1-uy*hl-ux*hw);ctx.closePath();ctx.fill();
}
const vectorPlugin={id:'vectors',afterDatasetsDraw(chart){
  const ctx=chart.ctx,a=chart.chartArea;
  ctx.save();ctx.beginPath();ctx.rect(a.left,a.top,a.width,a.height);ctx.clip();
  ctx.strokeStyle='#000';ctx.fillStyle='#000';
  chart.data.datasets.forEach((ds,i)=>{
    if(!ds.vectors)return;
    chart.getDatasetMeta(i).data.forEach((el,j)=>{
      const v=ds.vectors[j];
      arrow(ctx,el.x,el.y,v[0]*ARROW_PX_PER_UNIT,-v[1]*ARROW_PX_PER_UNIT);
    });
  });
  ctx.restore();
  ctx.save();ctx.strokeStyle='#000';ctx.lineWidth=4;ctx.strokeRect(a.left,a.top,a.width,a.height);ctx.restore();
  const o=chart.options.plugins.vectors||{};
  if(o.refX!==undefined){ctx.save();ctx.strokeStyle='#000';ctx.fillStyle='#000';
    arrow(ctx,a.left+o.refX,a.bottom+82,refArrowValue*ARROW_PX_PER_UNIT,0);ctx.restore();}
}};
function place(id,l,t,w,h){const c=document.createElement('canvas');c.id=id;c.width=w;c.height=h;c.style.left=l+'px';c.style.top=t+'px';c.style.width=w+'px';c.style.height=h+'px';document.body.appendChild(c);return c;}
function panel(id,box,shade,wind,showX,showY,refX){
  const canvas=place(id,box.cl,box.ct,box.r+5-box.cl,box.cb-box.ct);
  const vectors=[],pts=[];
  wind.forEach((row,r)=>{for(let k=0;k<latitudes.length;k++){pts.push({x:latitudes[k],y:pressures[r]});vectors.push([row[2*k],row[2*k+1]]);}});
  const sets=shade.map((s,i)=>({data:s.pts.map(p=>({x:p[0],y:p[1]})),showLine:true,fill:'shape',backgroundColor:levelColors[s.lev],borderColor:levelColors[s.lev],borderWidth:0,pointRadius:0,tension:s.t===undefined?0.35:s.t,order:shade.length-i+1}));
  sets.push({data:pts,vectors:vectors,pointRadius:0,showLine:false,order:0});
  new Chart(canvas,{type:'scatter',data:{datasets:sets},plugins:[vectorPlugin],options:{
    responsive:false,animation:false,events:[],
    layout:{padding:{top:box.t-box.ct,right:5,left:0,bottom:0}},
    plugins:{legend:{display:false},tooltip:{enabled:false},vectors:{refX:refX}},
    scales:{
      x:{type:'linear',min:20,max:27,
        afterBuildTicks:s=>{s.ticks=latTicks.map(v=>({value:v}));},
        afterFit:s=>{s.height=box.cb-box.b;s.paddingLeft=0;s.paddingRight=0;},
        grid:{drawOnChartArea:false,tickLength:14,tickColor:'#000',lineWidth:2.5},
        border:{display:true,color:'#000',width:4},
        ticks:{display:showX,autoSkip:false,maxRotation:0,padding:6,color:'#000',font:{family:'Liberation Sans',size:49},callback:v=>v+'N'}},
      y:{type:'linear',reverse:true,min:100,max:850,
        afterBuildTicks:s=>{s.ticks=pressureTicks.map(v=>({value:v}));},
        afterFit:s=>{s.width=box.l-box.cl;s.paddingTop=0;s.paddingBottom=0;},
        grid:{drawOnChartArea:false,tickLength:17,tickColor:'#000',lineWidth:3.5},
        border:{display:true,color:'#000',width:4},
        ticks:{display:showY,autoSkip:false,padding:11,color:'#000',font:{family:'Liberation Sans',size:50}}}
    }}});
}
function colorbar(id,l,top,bottom){
  const canvas=place(id,l,top-30,170,bottom-top+60);
  const sets=barColors.map((c,i)=>c?{data:[[i,i+1]],backgroundColor:c,borderWidth:0,grouped:false,barPercentage:1,categoryPercentage:1}:null).filter(Boolean);
  new Chart(canvas,{type:'bar',data:{labels:[''],datasets:sets},options:{
    responsive:false,animation:false,events:[],
    layout:{padding:{top:30,bottom:30,left:0,right:0}},
    plugins:{legend:{display:false},tooltip:{enabled:false}},
    scales:{
      x:{display:false,afterFit:s=>{s.height=0;}},
      y:{position:'right',reverse:true,min:0,max:15,
        afterFit:s=>{s.width=170-39;s.paddingTop=0;s.paddingBottom=0;},
        afterBuildTicks:s=>{s.ticks=colorLabels.map((_,i)=>({value:i}));},
        grid:{display:false,drawTicks:false},border:{display:false},
        ticks:{autoSkip:false,padding:11,color:'#000',align:'center',crossAlign:'near',font:{family:'DejaVu Sans',size:33},callback:(v)=>colorLabels[v]}}
    }}});
}
function text(cls,str,l,t){const d=document.createElement('div');d.className='t '+cls;d.textContent=str;d.style.left=l+'px';d.style.top=t+'px';document.body.appendChild(d);}

panel('pa',{cl:0,ct:10,l:275,t:37,r:1795,b:1118,cb:1150},shadeA,windA,false,true);
panel('pb',{cl:1829,ct:10,l:1836,t:37,r:3353,b:1118,cb:1150},shadeB,windB,false,false);
panel('pc',{cl:0,ct:1185,l:275,t:1214,r:1795,b:2285,cb:2410},shadeC,windC,true,true,1140);
panel('pd',{cl:1830,ct:1185,l:1836,t:1214,r:3353,b:2285,cb:2410},shadeD,windD,true,false,1135);
colorbar('ca',3472,153,1081);
colorbar('cc',3465,1331,2245);

text('panel','(a)',350,132);text('panel','(b)',1941,114);text('panel','(c)',344,1295);text('panel','(d)',1957,1306);
text('yt','Pressure (hPa)',60,622);text('yt','Pressure (hPa)',60,1813);
text('ref','60',1463,2370);text('ref','60',3021,2370);
</script></body></html>
